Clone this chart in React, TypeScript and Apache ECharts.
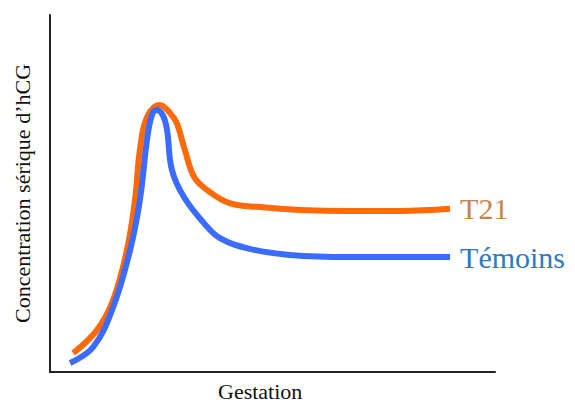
import React, { useEffect, useRef } from "react";
import * as echarts from "echarts";

const seriesNames = ["T21", "Témoins"];
const t21Data: [number, number][] = [
  [5.2, 5.3], [10.6, 11.8], [14.2, 20.2], [17.3, 34.2], [19.1, 48.2], [20.2, 62.2],
  [21.8, 71.4], [24.7, 74.8], [27.0, 72.5], [28.5, 69.7], [30.3, 62.2], [32.4, 54.6],
  [35.3, 51.0], [40.4, 47.3], [47.2, 46.2], [56.2, 45.4], [67.4, 45.1], [78.7, 45.1],
  [89.9, 45.7],
];
const temoinsData: [number, number][] = [
  [4.5, 2.5], [9.7, 7.0], [14.2, 18.2], [18.0, 34.2], [20.2, 48.2], [21.8, 65.0],
  [22.9, 72.0], [24.0, 73.4], [25.4, 71.8], [26.3, 67.8], [27.4, 56.6], [30.1, 49.0],
  [34.6, 41.7], [38.2, 37.5], [44.9, 34.5], [53.9, 32.8], [67.4, 32.2], [89.9, 32.2],
];
const xName = "Gestation";
const yName = "Concentration sérique d\u2019hCG";

const FONT = "'Liberation Serif', 'Times New Roman', serif";

export default function App() {
  const ref = useRef<HTMLDivElement>(null);
  useEffect(() => {
    if (!ref.current) return;
    const chart = echarts.init(ref.current, undefined, { renderer: "svg" });
    const mkSeries = (name: string, data: [number, number][], color: string, labelColor: string) => ({
      type: "line",
      name,
      data,
      smooth: 0.4,
      showSymbol: false,
      lineStyle: { color, width: 6 },
      endLabel: {
        show: true,
        formatter: name,
        color: labelColor,
        fontFamily: FONT,
        fontSize: 30,
        distance: 10,
      },
    });
    chart.setOption({
      animation: false,
      backgroundColor: "#ffffff",
      grid: { left: 50, right: 80, top: 15, bottom: 31 },
      xAxis: {
        type: "value",
        min: 0,
        max: 100,
        axisLine: { show: true, lineStyle: { color: "#222", width: 2 } },
        axisTick: { show: false },
        axisLabel: { show: false },
        splitLine: { show: false },
      },
      yAxis: {
        type: "value",
        min: 0,
        max: 100,
        name: yName,
        nameLocation: "middle",
        nameGap: 17,
        nameTextStyle: { fontFamily: FONT, fontSize: 22, color: "#111" },
        axisLine: { show: true, lineStyle: { color: "#222", width: 2 } },
        axisTick: { show: false },
        axisLabel: { show: false },
        splitLine: { show: false },
      },
      graphic: [
        {
          type: "text",
          left: 218,
          top: 380,
          style: { text: xName, fontFamily: FONT, fontSize: 22, fill: "#111" },
        },
      ],
      series: [
        mkSeries(seriesNames[0], t21Data, "#fe6a0a", "#c7844a"),
        mkSeries(seriesNames[1], temoinsData, "#3a6cff", "#3079c2"),
      ],
    });
    return () => chart.dispose();
  }, []);
  return (
    <div
      ref={ref}
      style={{ position: "fixed", left: 0, top: 0, width: 575, height: 403 }}
    />
  );
}
